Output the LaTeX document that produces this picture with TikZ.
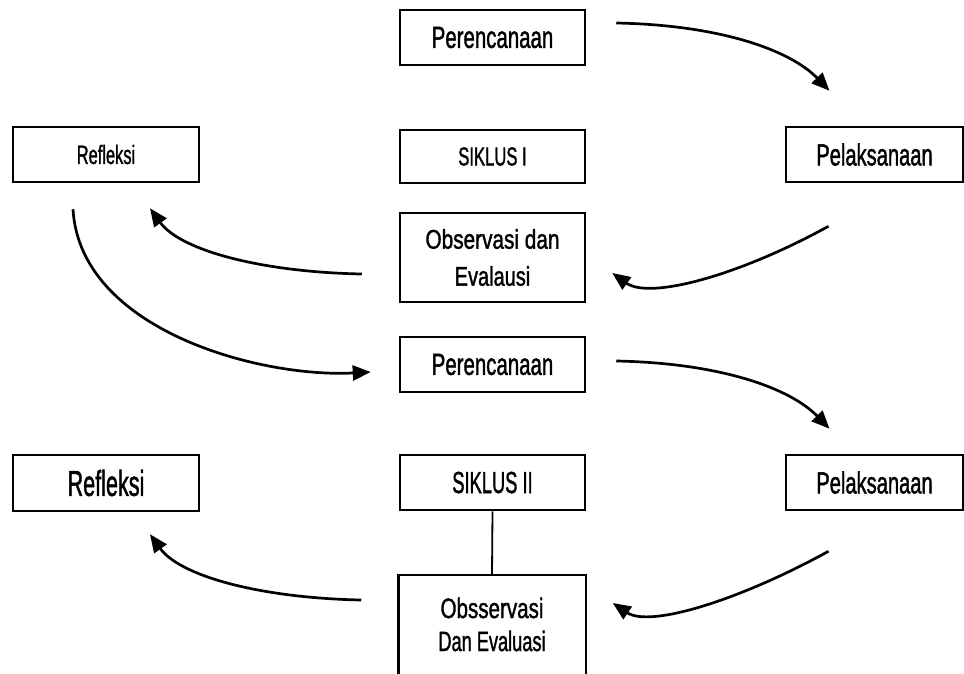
\documentclass[tikz,border=0pt]{standalone}
\usepackage{fontspec}
\setmainfont{Liberation Sans}[FakeBold=1.6]
\usetikzlibrary{arrows.meta}
\newcommand{\nx}[2]{\scalebox{#1}[1]{#2}}
\begin{document}
\begin{tikzpicture}[x=1pt,y=-1pt,
  box/.style={draw, line width=2.5pt, inner sep=0pt, align=center, text=black},
  conn/.style={line width=2.7pt, -{Triangle[length=18pt,width=15pt]}},
]
\useasboundingbox (0,0) rectangle (964,673);
% Siklus I
\node[box, minimum width=185pt, minimum height=55pt, font=\fontsize{30.5}{36}\selectfont] (per1) at (492.5,37.5) {\nx{0.67}{Perencanaan}};
\node[box, minimum width=185pt, minimum height=53pt, font=\fontsize{26}{30}\selectfont] (sik1) at (492.5,156.5) {\nx{0.64}{SIKLUS I}};
\node[box, minimum width=185pt, minimum height=89pt, font=\fontsize{27}{37}\selectfont] (obs1) at (492.5,257.5) {\nx{0.77}{Observasi dan}\\\nx{0.74}{Evalausi}};
\node[box, minimum width=186pt, minimum height=55pt, font=\fontsize{26.5}{30}\selectfont] (ref1) at (106,154.5) {\nx{0.62}{Refleksi}};
\node[box, minimum width=177pt, minimum height=55pt, font=\fontsize{30.5}{36}\selectfont] (pel1) at (874.5,154.5) {\nx{0.66}{Pelaksanaan}};
% Siklus II
\node[box, minimum width=185pt, minimum height=55pt, font=\fontsize{30.5}{36}\selectfont] (per2) at (492.5,364.5) {\nx{0.67}{Perencanaan}};
\node[box, minimum width=185pt, minimum height=55pt, font=\fontsize{30.5}{36}\selectfont] (sik2) at (492.5,482.5) {\nx{0.60}{SIKLUS II}};
\node[box, minimum width=186pt, minimum height=56pt, font=\fontsize{36}{40}\selectfont] (ref2) at (106,483) {\nx{0.60}{Refleksi}};
\node[box, minimum width=177pt, minimum height=55pt, font=\fontsize{30.5}{36}\selectfont] (pel2) at (874.5,482.5) {\nx{0.66}{Pelaksanaan}};
\node[box, draw=none, minimum width=185pt, minimum height=97pt, font=\fontsize{28}{33}\selectfont] (obs2) at (492,624.5) {\nx{0.735}{Obsservasi}\\\nx{0.65}{Dan Evaluasi}};
\draw[line width=2.5pt] (obs2.south west) -- (obs2.north west) -- (obs2.north east) -- (obs2.south east);
\draw[line width=1.8pt] (sik2.south) -- (obs2.north);
% connectors
\draw[conn] ([shift={(30,-14.5)}]per1.east) .. controls (720,25) and (790,50) .. ([shift={(-45,-35)}]pel1.north);
\draw[conn] ([shift={(-46,43)}]pel1.south) .. controls (740,275) and (650,300) .. ([shift={(26,15.5)}]obs1.east);
\draw[conn] ([shift={(-37,16.5)}]obs1.west) .. controls (260,272) and (180,250) .. ([shift={(44,25)}]ref1.south);
\draw[conn] ([shift={(-33,26)}]ref1.south) .. controls (80,330) and (260,378) .. ([shift={(-28,7.5)}]per2.west);
\draw[conn] ([shift={(30,-3.5)}]per2.east) .. controls (720,363) and (790,388) .. ([shift={(-45,-25)}]pel2.north);
\draw[conn] ([shift={(-46,40)}]pel2.south) .. controls (740,600) and (650,628) .. ([shift={(27,-21.5)}]obs2.east);
\draw[conn] ([shift={(-37,-24.5)}]obs2.west) .. controls (260,598) and (180,576) .. ([shift={(44,22)}]ref2.south);
\end{tikzpicture}
\end{document}
